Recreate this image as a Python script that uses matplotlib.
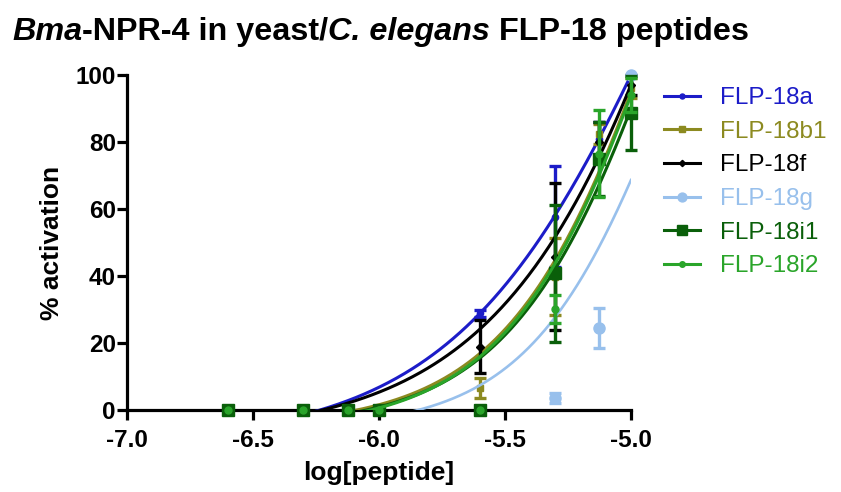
import numpy as np
import matplotlib
matplotlib.use("Agg")
import matplotlib.pyplot as plt
from matplotlib.lines import Line2D

plt.rcParams['font.family'] = ['Liberation Sans', 'DejaVu Sans']
plt.rcParams['axes.unicode_minus'] = False

# log molar peptide concentrations tested
log_peptide = [-6.6, -6.3, -6.125, -6.0, -5.6, -5.3, -5.125, -5.0]

peptides = ["FLP-18a", "FLP-18b1", "FLP-18f", "FLP-18g", "FLP-18i1", "FLP-18i2"]

# mean % activation and SEM per peptide
act_18a = [0, 0, 0, 0, 28.9, 57.7, 81.0, 100.0]
sem_18a = [0, 0, 0, 0, 1.0, 15.0, 5.0, 0]
act_18b1 = [0, 0, 0, 0, 6.5, 39.8, 82.5, 96.0]
sem_18b1 = [0, 0, 0, 0, 3.0, 11.4, 3.0, 3.0]
act_18f = [0, 0, 0, 0, 18.9, 45.8, 80.0, 97.0]
sem_18f = [0, 0, 0, 0, 8.0, 22.0, 6.0, 3.0]
act_18g = [0, 0, 0, 0, 0, 3.5, 24.4, 100.0]
sem_18g = [0, 0, 0, 0, 0, 1.5, 6.0, 0]
act_18i1 = [0, 0, 0, 0, 0, 40.8, 75.0, 88.6]
sem_18i1 = [0, 0, 0, 0, 0, 20.4, 11.0, 11.0]
act_18i2 = [0, 0, 0, 0, 0, 30.1, 76.5, 94.0]
sem_18i2 = [0, 0, 0, 0, 0, 4.2, 13.0, 5.0]

# fitted log(agonist) vs. response (variable slope) parameters
fit_bottom = [-10.1, -5.15, -8.1, -5.9, -5.5, -6.1]
fit_top = [274.4, 281.5, 429.6, 217.4, 267.8, 280.5]
fit_logec50 = [-4.8, -4.8, -4.5, -4.8, -4.8, -4.8]
fit_hill = [1.0, 1.35, 1.0, 1.5, 1.35, 1.35]

colors = ["#1c1cc8", "#8c8a20", "#000000", "#98c0ec", "#0a5f0a", "#2aa52a"]
markers = ["o", "s", "D", "o", "s", "o"]
msizes = [4.5, 5, 4, 8, 8.5, 5]

means = [act_18a, act_18b1, act_18f, act_18g, act_18i1, act_18i2]
sems = [sem_18a, sem_18b1, sem_18f, sem_18g, sem_18i1, sem_18i2]

W, H = 841, 492
fig = plt.figure(figsize=(W / 100, H / 100), dpi=100)
ax = fig.add_axes([127 / W, 1 - 410 / H, (631 - 127) / W, (410 - 75) / H])

x = np.array(log_peptide)
xs = np.linspace(min(log_peptide), max(log_peptide), 300)

for i, name in enumerate(peptides):
    y = np.array(means[i], dtype=float)
    e = np.array(sems[i], dtype=float)
    c = colors[i]
    has_err = e > 0
    ax.errorbar(x[has_err], y[has_err], yerr=e[has_err], fmt="none",
                ecolor=c, elinewidth=2.4, capsize=4, capthick=2.4,
                clip_on=False, zorder=3 + i)
    ax.plot(x, y, linestyle="none", marker=markers[i], ms=msizes[i],
            color=c, mec=c, clip_on=False, zorder=3 + i)
    curve = fit_bottom[i] + (fit_top[i] - fit_bottom[i]) / (
        1 + 10 ** ((fit_logec50[i] - xs) * fit_hill[i]))
    lw = 1.9 if i == 3 else 2.2
    ax.plot(xs, curve, color=c, lw=lw, zorder=3 + i)

ax.set_xlim(-7.0, -5.0)
ax.set_ylim(0, 100)
ax.set_xticks([-7.0, -6.5, -6.0, -5.5, -5.0])
ax.set_xticklabels([f"{v:.1f}" for v in [-7.0, -6.5, -6.0, -5.5, -5.0]])
ax.set_yticks([0, 20, 40, 60, 80, 100])

for side in ("top", "right"):
    ax.spines[side].set_visible(False)
for side in ("left", "bottom"):
    ax.spines[side].set_linewidth(2.3)
ax.tick_params(axis="both", width=2.3, length=7, direction="out",
               labelsize=17.5, color="black")
ax.tick_params(axis="y", pad=1)
ax.tick_params(axis="x", pad=7)
for lab in ax.get_xticklabels() + ax.get_yticklabels():
    lab.set_fontweight("bold")

ax.set_xlabel("log[peptide]", fontsize=19, fontweight="bold", labelpad=6)
ax.set_ylabel("% activation", fontsize=19, fontweight="bold", labelpad=8)

# legend with series-coloured text
handles = [Line2D([0], [0], color=colors[i], lw=2.2, marker=markers[i],
                  ms=msizes[i] * 0.8) for i in range(len(peptides))]
leg = fig.legend(handles, peptides, loc="upper left",
                 bbox_to_anchor=(664 / W, 1 - 87 / H), frameon=False,
                 fontsize=17.5, handlelength=1.5, handletextpad=0.8,
                 labelspacing=0.48, borderpad=0, borderaxespad=0)
for txt, c in zip(leg.get_texts(), colors):
    txt.set_color(c)

# title built from bold / bold-italic runs
renderer = fig.canvas.get_renderer()
pieces = [("Bma", "italic"), ("-NPR-4 in yeast/", "normal"),
          ("C. elegans", "italic"), (" FLP-18 peptides", "normal")]
xpos = 12
for s, style in pieces:
    t = fig.text(xpos / W, 1 - 40 / H, s, fontsize=23.3, fontweight="bold",
                 style=style, va="baseline", ha="left")
    xpos += t.get_window_extent(renderer).width

fig.savefig("out.png", dpi=100)
